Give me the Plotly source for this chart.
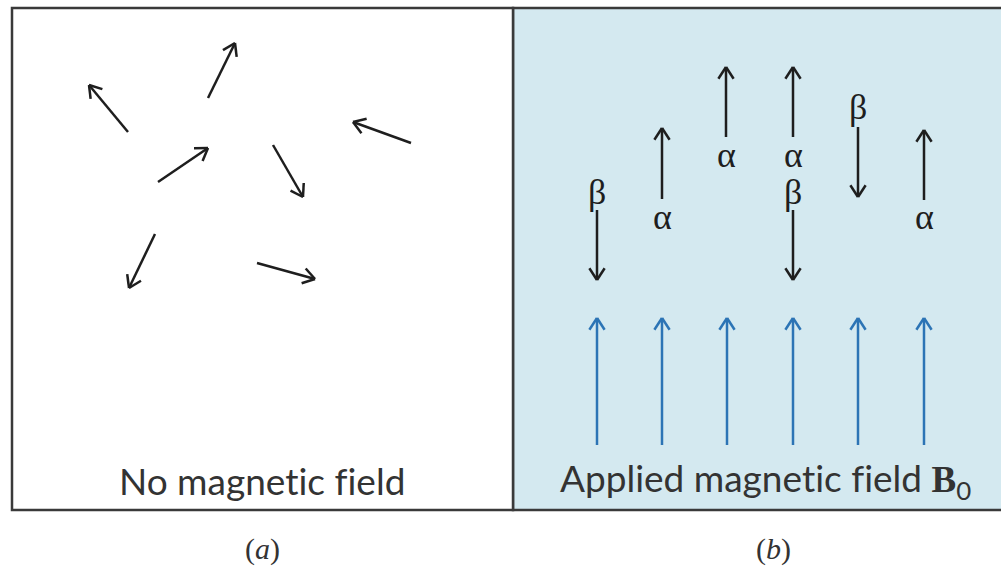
import math
import plotly.graph_objects as go

# ---- data (pixel-space diagram coordinates) ----
# Panel (a): randomly oriented spins: tail -> head
rand_tail_x = [128, 208, 158, 411, 273, 155, 257]
rand_tail_y = [132, 98, 182, 143, 145, 234, 263]
rand_head_x = [89, 235, 208, 353, 303, 129, 315]
rand_head_y = [85, 43, 148, 122, 197, 288, 279]

# Panel (b): aligned spins
spin_x = [597, 662, 726, 793, 793, 858, 924]
spin_state = ["β", "α", "α", "α", "β", "β", "α"]
spin_top = [210, 128, 67, 67, 210, 127, 130]
spin_bottom = [280, 199, 137, 137, 280, 197, 200]
label_y = [192, 217, 155, 155, 192, 107, 217]

# Applied field arrows
field_x = [597, 662, 727, 793, 858, 924]
field_tail_y = [445] * 6
field_head_y = [318] * 6

panel_labels = ["No magnetic field",
                "Applied magnetic field <b><span style='font-family:Liberation Serif'>B</span></b><sub>0</sub>"]
sub_labels = ["(<i>a</i>)", "(<i>b</i>)"]

W, H = 1001, 569
HEAD_LEN = 14
HEAD_ANG = math.radians(33)
SERIF = "Liberation Serif, DejaVu Serif, serif"


def arrow_xy(x0, y0, x1, y1):
    """Shaft plus open V head as a polyline (None-separated)."""
    ang = math.atan2(y1 - y0, x1 - x0)
    xs = [x0, x1, None]
    ys = [y0, y1, None]
    for s in (1, -1):
        a = ang + math.pi + s * HEAD_ANG
        xs += [x1, x1 + HEAD_LEN * math.cos(a), None]
        ys += [y1, y1 + HEAD_LEN * math.sin(a), None]
    return xs, ys


fig = go.Figure()

# panel backgrounds / frames
fig.add_shape(type="rect", x0=513, y0=8, x1=1003, y1=510,
              fillcolor="#d4e9f0", line=dict(color="#3a3a3a", width=2.5), layer="below")
fig.add_shape(type="rect", x0=12, y0=8, x1=513, y1=510,
              fillcolor="white", line=dict(color="#3a3a3a", width=2.5), layer="below")

# random spins
bx, by = [], []
for x0, y0, x1, y1 in zip(rand_tail_x, rand_tail_y, rand_head_x, rand_head_y):
    xs, ys = arrow_xy(x0, y0, x1, y1)
    bx += xs
    by += ys

# aligned spins
for x, st, t, b in zip(spin_x, spin_state, spin_top, spin_bottom):
    if st == "α":
        xs, ys = arrow_xy(x, b, x, t)
    else:
        xs, ys = arrow_xy(x, t, x, b)
    bx += xs
    by += ys

fig.add_trace(go.Scatter(x=bx, y=by, mode="lines",
                         line=dict(color="#1e1e1e", width=2.5),
                         hoverinfo="skip", showlegend=False))

fx, fy = [], []
for x, t, h in zip(field_x, field_tail_y, field_head_y):
    xs, ys = arrow_xy(x, t, x, h)
    fx += xs
    fy += ys
fig.add_trace(go.Scatter(x=fx, y=fy, mode="lines",
                         line=dict(color="#2c74b5", width=2.5),
                         hoverinfo="skip", showlegend=False))

# spin labels
for x, y, st in zip(spin_x, label_y, spin_state):
    fig.add_annotation(x=x, y=y, text=st, showarrow=False,
                       font=dict(family=SERIF, size=36, color="#1e1e1e"),
                       xanchor="center", yanchor="middle")

# panel captions
for cx, txt in zip([262, 765], panel_labels):
    fig.add_annotation(x=cx, y=480, text=txt, showarrow=False,
                       font=dict(family="Lato", size=37, color="#333333"),
                       xanchor="center", yanchor="middle")
for cx, txt in zip([262, 773], sub_labels):
    fig.add_annotation(x=cx, y=549, text=txt, showarrow=False,
                       font=dict(family=SERIF, size=30, color="#333333"),
                       xanchor="center", yanchor="middle")

fig.update_layout(
    width=W, height=H,
    margin=dict(l=0, r=0, t=0, b=0),
    paper_bgcolor="white", plot_bgcolor="white",
    xaxis=dict(range=[0, W], visible=False, fixedrange=True),
    yaxis=dict(range=[H, 0], visible=False, fixedrange=True),
)

post = (
    "document.body.style.margin='0';document.body.style.overflow='hidden';"
    "var s=document.createElement('style');"
    "s.textContent='text, tspan {font-variant-ligatures: none !important; "
    "font-feature-settings: \"liga\" 0, \"clig\" 0 !important;}';"
    "document.head.appendChild(s);"
)
fig.write_html("out.html", config={"displayModeBar": False}, post_script=post)
